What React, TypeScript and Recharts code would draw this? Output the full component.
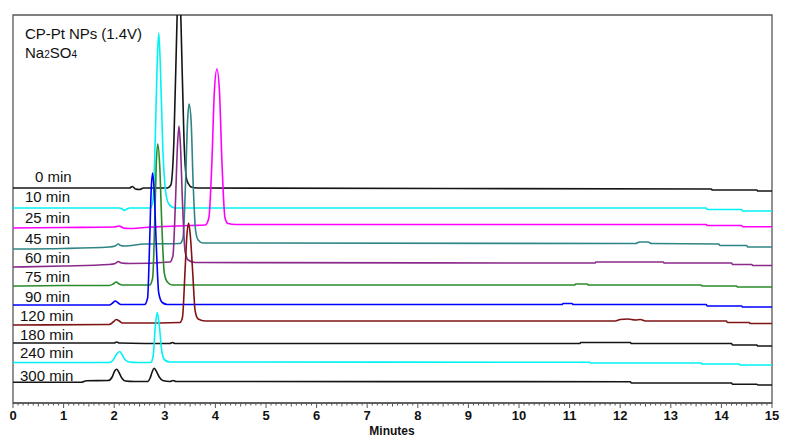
import { LineChart, Line, XAxis, YAxis, ReferenceArea } from "recharts"

// retention time (min) vs. stacked detector signal, one trace per sampling time
const LABELS = ["0 min", "10 min", "25 min", "45 min", "60 min", "75 min", "90 min", "120 min", "180 min", "240 min", "300 min"]
const COLORS = ["#141414", "#00f2f2", "#ff00ff", "#2f8585", "#8a2a8a", "#2a8a2a", "#0000ff", "#7f1414", "#141414", "#00f2f2", "#141414"]

const T0 = [[0, 215], [2.3, 215], [2.36, 216.5], [2.42, 214], [2.5, 213.5], [2.58, 215], [3.05, 215], [3.12, 218], [3.18, 262], [3.24, 380], [3.28, 440], [3.32, 380], [3.38, 262], [3.43, 224], [3.47, 219], [3.52, 216], [3.65, 215], [13.8, 214], [13.82, 213], [14.7, 213], [14.72, 212], [15, 212]]
const T10 = [[0, 195], [2.1, 195], [2.16, 194], [2.2, 192.5], [2.25, 194], [2.3, 195], [2.72, 195], [2.77, 204], [2.81, 262], [2.85, 340], [2.88, 370], [2.91, 340], [2.96, 256], [3.02, 210], [3.08, 199], [3.2, 195], [13.7, 195], [13.72, 193.5], [14.4, 193.5], [14.42, 192], [15, 192]]
const T25 = [[0, 175], [1.0, 175.5], [2.0, 176], [2.1, 177], [2.18, 175], [2.3, 174.5], [2.6, 175.5], [3.0, 176.5], [3.5, 177.5], [3.8, 178], [3.87, 185], [3.93, 240], [3.98, 312], [4.03, 334], [4.08, 312], [4.13, 240], [4.19, 185], [4.25, 179.5], [4.4, 178.5], [13.7, 178.5], [13.72, 177.5], [14.4, 177.5], [14.42, 176.3], [15, 176.3]]
const T45 = [[0, 154], [1.0, 154.5], [1.9, 156], [2.02, 157], [2.08, 159], [2.13, 157.5], [2.2, 157], [2.6, 159], [3.3, 159.5], [3.36, 165], [3.41, 220], [3.45, 282], [3.48, 299], [3.52, 282], [3.56, 220], [3.61, 172], [3.66, 163], [3.75, 160], [12.3, 159.5], [12.38, 161], [12.55, 161], [12.62, 159.5], [13.95, 159], [13.97, 157.5], [14.5, 157.5], [14.52, 156], [15, 156]]
const T60 = [[0, 136], [1.0, 137], [1.9, 138.5], [2.02, 139.5], [2.08, 141.5], [2.14, 140], [2.3, 139.5], [3.1, 141], [3.16, 147], [3.21, 200], [3.25, 257], [3.28, 277], [3.31, 257], [3.35, 200], [3.4, 152], [3.46, 143], [3.6, 140.5], [11.5, 140], [11.52, 141], [12.85, 141], [12.87, 140], [14.2, 140], [14.22, 138.5], [14.6, 138.5], [14.62, 137.5], [15, 137.5]]
const T75 = [[0, 117], [1.0, 117.5], [1.9, 117.5], [1.98, 119], [2.04, 121], [2.1, 119], [2.16, 118], [2.7, 118], [2.76, 125], [2.8, 180], [2.83, 237], [2.86, 259], [2.9, 237], [2.94, 180], [2.99, 130], [3.05, 121], [3.15, 118], [11.1, 118], [11.12, 119], [11.35, 119], [11.37, 118], [13.6, 118], [13.62, 117], [14.3, 117], [14.32, 116], [15, 116]]
const T90 = [[0, 98], [1.9, 98], [1.97, 100], [2.02, 102], [2.08, 100], [2.13, 98.5], [2.6, 98.5], [2.66, 105], [2.7, 160], [2.73, 212], [2.76, 230], [2.79, 212], [2.83, 160], [2.88, 110], [2.95, 100.5], [3.05, 98.5], [10.85, 98.5], [10.87, 99.5], [11.05, 99.5], [11.07, 98.5], [13.7, 98.5], [13.72, 97], [14.4, 97], [14.42, 96], [15, 96]]
const T120 = [[0, 78], [1.9, 78.5], [1.98, 81], [2.04, 83.5], [2.1, 82], [2.16, 80], [2.5, 80], [3.3, 80.5], [3.35, 86], [3.4, 132], [3.44, 170], [3.47, 180], [3.5, 170], [3.55, 132], [3.6, 92], [3.66, 84], [3.8, 82], [11.9, 82], [12.0, 83.5], [12.15, 84], [12.3, 83], [12.4, 83.5], [12.5, 82], [14.1, 82], [14.12, 80.5], [14.55, 80.5], [14.57, 79.5], [15, 79.5]]
const T180 = [[0, 60], [2.0, 60], [2.05, 61], [2.1, 60], [3.1, 59.5], [3.15, 60.5], [3.2, 59.5], [11.2, 59.5], [11.22, 60.5], [12.2, 60.5], [12.22, 59.5], [14.2, 59.5], [14.22, 58], [14.7, 58], [14.72, 57], [15, 57]]
const T240 = [[0, 40.5], [1.9, 40.5], [1.98, 43], [2.05, 49], [2.11, 51.5], [2.16, 48], [2.22, 43], [2.3, 41], [2.45, 40.5], [2.72, 40.5], [2.77, 47], [2.81, 75], [2.85, 90.5], [2.89, 78], [2.94, 52], [3.0, 43], [3.1, 41], [11.4, 40.7], [11.42, 40], [13.6, 40], [13.62, 39], [14.35, 39], [14.37, 38], [15, 38]]
const T300 = [[0, 20.7], [1.35, 20.7], [1.45, 22.3], [1.88, 22.5], [1.96, 26], [2.01, 32], [2.05, 33.7], [2.09, 31], [2.15, 25], [2.22, 22], [2.4, 21.5], [2.66, 21.5], [2.71, 25], [2.75, 31], [2.79, 34.7], [2.83, 32], [2.89, 26], [2.96, 22.5], [3.1, 21.5], [3.17, 22.5], [3.22, 21.5], [12.2, 21.3], [12.22, 20], [14.2, 20], [14.22, 18.8], [14.7, 18.8], [14.72, 18], [15, 18]]

const TRACES = [T0, T10, T25, T45, T60, T75, T90, T120, T180, T240, T300]
const MAJOR_TICKS = [0, 1, 2, 3, 4, 5, 6, 7, 8, 9, 10, 11, 12, 13, 14, 15]

// label placement (px) for the trace names
const LABEL_X = [35, 25, 25, 25, 25, 25, 25, 20, 20, 20, 20]
const LABEL_Y = [182, 202, 223, 244, 263, 282, 302, 321, 340, 358, 381]

const FONT = "'Liberation Sans', Arial, sans-serif"
const FRAME = "#575757"

const minorTicks: number[] = []
for (let i = 0; i <= 150; i++) minorTicks.push(i / 10)

function Tick({ x, y, payload }: { x?: number; y?: number; payload?: { value: number } }) {
  const v = Math.round((payload?.value ?? 0) * 10) / 10
  const major = MAJOR_TICKS.includes(v)
  const half = !major && Math.abs(v % 1 - 0.5) < 0.01
  const len = major ? 5 : half ? 3.5 : 2.5
  return (
    <g>
      <line x1={x} x2={x} y1={y} y2={(y ?? 0) + len} stroke={FRAME} strokeWidth={1} />
      {major && (
        <text x={x} y={(y ?? 0) + 17} textAnchor="middle" fontSize={13} fontWeight="bold" fontFamily={FONT} fill="#111">
          {v}
        </text>
      )}
    </g>
  )
}

export default function App() {
  return (
    <div style={{ position: "absolute", left: 0, top: 0, width: 800, height: 438, background: "#fff" }}>
      <LineChart width={800} height={438} margin={{ top: 15, right: 28, bottom: 0, left: 13 }}>
        <XAxis
          type="number"
          dataKey="t"
          domain={[0, 15]}
          allowDataOverflow
          ticks={minorTicks}
          interval={0}
          height={35}
          tickSize={0}
          tickMargin={0}
          tickLine={false}
          axisLine={{ stroke: FRAME, strokeWidth: 1.3 }}
          tick={<Tick />}
        />
        <YAxis hide type="number" domain={[0, 388]} allowDataOverflow />
        <ReferenceArea x1={0} x2={15} y1={0} y2={388} fill="none" stroke={FRAME} strokeWidth={1.3} />
        {TRACES.map((pts, i) => (
          <Line
            key={LABELS[i]}
            data={pts.map(([t, v]) => ({ t, v }))}
            dataKey="v"
            type="monotone"
            stroke={COLORS[i]}
            strokeWidth={1.6}
            dot={false}
            activeDot={false}
            isAnimationActive={false}
          />
        ))}
      </LineChart>
      <svg width={800} height={438} style={{ position: "absolute", left: 0, top: 0, pointerEvents: "none" }}>
        <text x={25} y={39} fontSize={15} fontFamily={FONT} fill="#111" textLength={117} lengthAdjust="spacing">CP-Pt NPs (1.4V)</text>
        <text x={25} y={58} fontSize={15} fontFamily={FONT} fill="#111">
          Na<tspan fontSize={10}>2</tspan>SO<tspan fontSize={10}>4</tspan>
        </text>
        {LABELS.map((l, i) => (
          <text key={l} x={LABEL_X[i]} y={LABEL_Y[i]} fontSize={15} fontFamily={FONT} fill="#111">{l}</text>
        ))}
        <text x={392} y={435} textAnchor="middle" fontSize={12} fontWeight="bold" fontFamily={FONT} fill="#111">Minutes</text>
      </svg>
    </div>
  )
}
